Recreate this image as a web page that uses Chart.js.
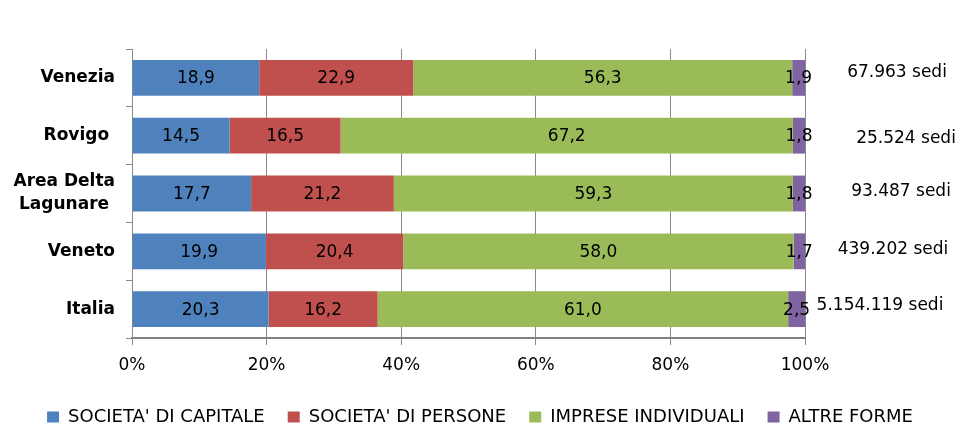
<!DOCTYPE html>
<html>
<head>
<meta charset="utf-8">
<script src="https://cdn.jsdelivr.net/npm/chart.js@4"></script>
<style>
  html, body { margin: 0; padding: 0; background: #fff; }
  #wrap { width: 960px; height: 426px; position: relative; }
</style>
</head>
<body>
<div id="wrap"><canvas id="chart"></canvas></div>
<script>
// ── Data ──────────────────────────────────────────────────
const areas = ['Venezia', 'Rovigo ', ['Area Delta', 'Lagunare '], 'Veneto', 'Italia'];
const capitale = [18.9, 14.5, 17.7, 19.9, 20.3];
const persone = [22.9, 16.5, 21.2, 20.4, 16.2];
const individuali = [56.3, 67.2, 59.3, 58.0, 61.0];
const altre = [1.9, 1.8, 1.8, 1.7, 2.5];
const sedi = ['67.963 sedi', '25.524 sedi', '93.487 sedi', '439.202 sedi', '5.154.119 sedi'];
const xTicks = [0, 20, 40, 60, 80, 100];

const font = '"DejaVu Sans", Verdana, sans-serif';

// ── Plugins ───────────────────────────────────────────────
const segmentLabels = {
  id: 'segmentLabels',
  afterDatasetsDraw(chart) {
    const ctx = chart.ctx;
    ctx.save();
    ctx.font = '17px ' + font;
    ctx.fillStyle = '#000';
    ctx.textAlign = 'center';
    ctx.textBaseline = 'middle';
    chart.data.datasets.forEach((ds, i) => {
      chart.getDatasetMeta(i).data.forEach((bar, j) => {
        const v = ds.data[j];
        ctx.fillText(v.toFixed(1).replace('.', ','), (bar.x + bar.base) / 2, bar.y + 1);
      });
    });
    ctx.restore();
  }
};

// small nudges so the totals sit where they do in the source
const sediNudge = [[4, -5], [13, 3], [8, -2], [0, -2], [-13, -4]];
const sediLabels = {
  id: 'sediLabels',
  afterDraw(chart) {
    const ctx = chart.ctx;
    const y = chart.scales.y;
    ctx.save();
    ctx.font = '17px ' + font;
    ctx.fillStyle = '#000';
    ctx.textAlign = 'center';
    ctx.textBaseline = 'middle';
    sedi.forEach((s, j) => {
      const [dx, dy] = sediNudge[j];
      ctx.fillText(s, chart.chartArea.right + 88 + dx, y.getPixelForValue(j) + dy);
    });
    ctx.restore();
  }
};

// ── Chart ─────────────────────────────────────────────────
const mkSet = (label, data, color) => ({
  label, data,
  backgroundColor: color,
  borderWidth: 0,
  barPercentage: 0.62,
  categoryPercentage: 1
});

new Chart(document.getElementById('chart'), {
  type: 'bar',
  data: {
    labels: areas,
    datasets: [
      mkSet("SOCIETA' DI CAPITALE", capitale, '#4F81BD'),
      mkSet("SOCIETA' DI PERSONE", persone, '#C0504D'),
      mkSet('IMPRESE INDIVIDUALI', individuali, '#9BBB59'),
      mkSet('ALTRE FORME', altre, '#8064A2')
    ]
  },
  options: {
    indexAxis: 'y',
    responsive: true,
    maintainAspectRatio: false,
    animation: false,
    layout: { padding: { top: 49, right: 0, bottom: -10, left: 0 } },
    plugins: {
      legend: {
        position: 'bottom',
        labels: {
          color: '#000',
          font: { family: font, size: 18 },
          boxWidth: 12,
          boxHeight: 11,
          padding: 23
        }
      },
      tooltip: { enabled: false }
    },
    scales: {
      x: {
        stacked: true,
        min: 0,
        max: 100,
        afterBuildTicks: (scale) => { scale.ticks = xTicks.map(v => ({ value: v })); },
        afterFit: (scale) => { scale.height = 47; },
        grid: { color: '#8a8a8a', lineWidth: 1, tickLength: 7 },
        border: { color: '#808080', width: 2 },
        ticks: {
          color: '#000',
          font: { family: font, size: 17 },
          padding: 10,
          callback: v => v + '%'
        }
      },
      y: {
        stacked: true,
        afterFit: (scale) => { scale.width = 132; },
        grid: { drawOnChartArea: false, offset: true, color: '#8a8a8a', tickLength: 6 },
        border: { color: '#8a8a8a' },
        ticks: {
          color: '#000',
          font: { family: font, size: 17, weight: 'bold', lineHeight: 1.35 },
          padding: 11
        }
      },
      // empty right-hand margin that holds the "sedi" totals
      side: {
        type: 'category',
        axis: 'y',
        position: 'right',
        labels: sedi,
        afterFit: (scale) => { scale.width = 155; },
        grid: { display: false },
        border: { display: false },
        ticks: { display: false }
      }
    }
  },
  plugins: [segmentLabels, sediLabels]
});
</script>
</body>
</html>
